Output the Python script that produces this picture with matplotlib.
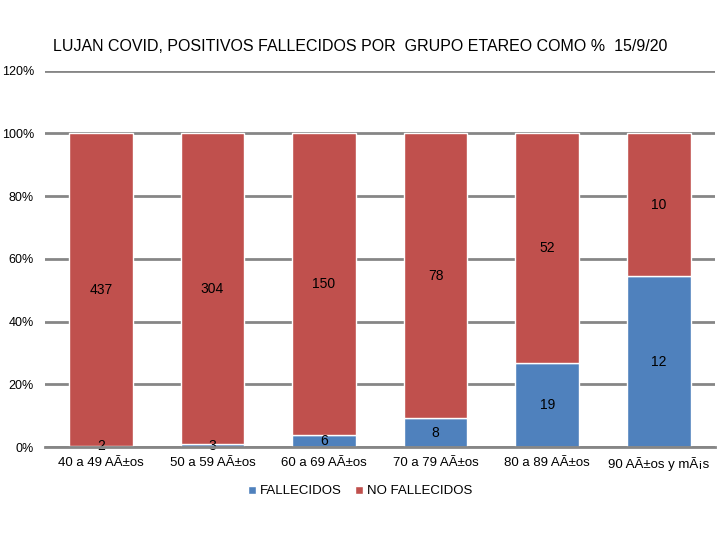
import matplotlib
matplotlib.use("Agg")
from matplotlib import pyplot as plt
from matplotlib.ticker import PercentFormatter
import numpy as np

# data
grupos = ["40 a 49 AÃ±os", "50 a 59 AÃ±os", "60 a 69 AÃ±os",
          "70 a 79 AÃ±os", "80 a 89 AÃ±os", "90 AÃ±os y mÃ¡s"]
fallecidos = [2, 3, 6, 8, 19, 12]
no_fallecidos = [437, 304, 150, 78, 52, 10]

plt.rcParams['font.family'] = ['Liberation Sans', 'DejaVu Sans']

fall = np.array(fallecidos, dtype=float)
nof = np.array(no_fallecidos, dtype=float)
tot = fall + nof
p_fall = fall / tot * 100
p_nof = nof / tot * 100

fig = plt.figure(figsize=(7.2, 5.4), dpi=100)
ax = fig.add_axes([0.0625, 0.172, 0.93, 0.697])
ax.set_axisbelow(True)

x = np.arange(len(grupos))
w = 0.57
b1 = ax.bar(x, p_fall, w, color="#4F81BD", edgecolor="white", linewidth=1, label="FALLECIDOS", zorder=3)
b2 = ax.bar(x, p_nof, w, bottom=p_fall, color="#C0504D", edgecolor="white", linewidth=1, label="NO FALLECIDOS", zorder=3)

for i in range(len(grupos)):
    ax.text(x[i], p_fall[i] / 2, str(fallecidos[i]), ha="center", va="center", fontsize=10, zorder=4)
    ax.text(x[i], p_fall[i] + p_nof[i] / 2, str(no_fallecidos[i]), ha="center", va="center", fontsize=10, zorder=4)

ax.set_ylim(0, 120)
ax.set_xlim(-0.5, len(grupos) - 0.5)
ax.set_yticks(range(0, 121, 20))
ax.yaxis.set_major_formatter(PercentFormatter(decimals=0))
ax.set_xticks(x)
ax.set_xticklabels(grupos, fontsize=9.5)
ax.tick_params(axis="y", labelsize=9, length=0, pad=8)
ax.tick_params(axis="x", length=0, pad=7)
ax.grid(axis="y", color="#868686", linewidth=2)
for s in ["top", "right", "left"]:
    ax.spines[s].set_visible(False)
ax.spines["bottom"].set_color("#868686")
ax.spines["bottom"].set_linewidth(2)
ax.spines["bottom"].set_zorder(5)

fig.text(0.5, 0.913, "LUJAN COVID, POSITIVOS FALLECIDOS POR  GRUPO ETAREO COMO %  15/9/20",
         ha="center", va="center", fontsize=11.5)

fig.legend(handles=[b1, b2], loc="center", bbox_to_anchor=(0.5, 0.09), ncol=2, frameon=False,
           fontsize=9.5, handlelength=0.6, handleheight=0.6, handletextpad=0.3, columnspacing=1.0)

fig.savefig("out.png", dpi=100)
